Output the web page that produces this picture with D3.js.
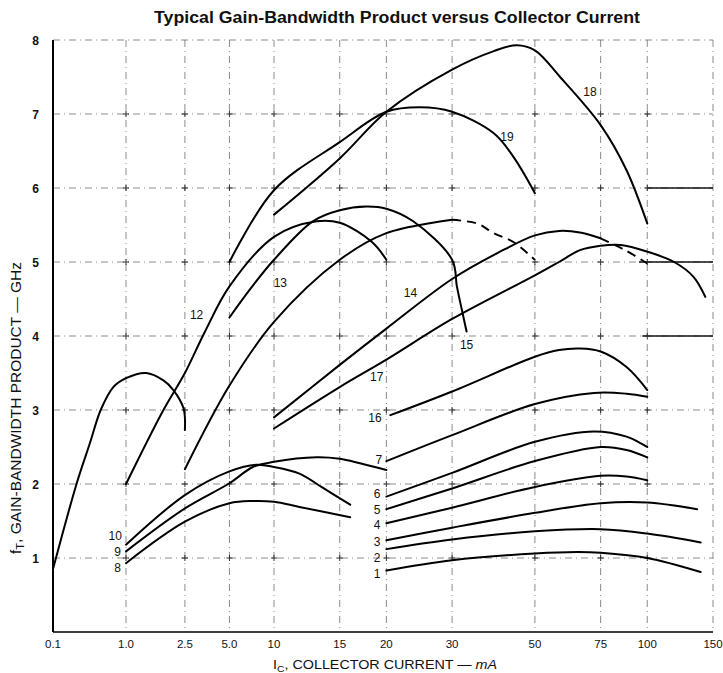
<!DOCTYPE html>
<html>
<head>
<meta charset="utf-8">
<script src="https://cdn.jsdelivr.net/npm/d3@7"></script>
<style>
body{margin:0;background:#fff;}
text{font-family:"Liberation Sans", Arial, Helvetica, sans-serif;fill:#111;}
</style>
</head>
<body>
<svg id="chart"></svg>
<script>
//AXIS VALUES
var xTicks = [0.1, 1, 2.5, 5, 10, 15, 20, 30, 50, 75, 100, 150];
var xTickLabels = ['0.1', '1.0', '2.5', '5.0', '10', '15', '20', '30', '50', '75', '100', '150'];
var yTicks = [1, 2, 3, 4, 5, 6, 7, 8];

//CURVES: [collector current mA, fT GHz]
var curve1 = [[20,0.83],[30,0.97],[50,1.06],[65,1.08],[75,1.07],[100,1.0],[139,0.81]];
var curve2 = [[20,1.12],[30,1.25],[50,1.36],[75,1.39],[100,1.33],[139,1.21]];
var curve3 = [[20,1.24],[30,1.41],[50,1.61],[75,1.74],[100,1.75],[136,1.66]];
var curve4 = [[20,1.47],[30,1.68],[50,1.96],[75,2.11],[88,2.10],[100,2.05]];
var curve5 = [[20,1.66],[30,1.94],[50,2.31],[75,2.50],[88,2.46],[100,2.36]];
var curve6 = [[20,1.83],[30,2.15],[50,2.57],[72,2.71],[88,2.64],[100,2.50]];
var curve7 = [[20,2.31],[30,2.66],[50,3.08],[72,3.23],[88,3.22],[100,3.18]];
var curve8 = [[1,0.93],[2.5,1.49],[5,1.74],[7.2,1.77],[10,1.76],[11.7,1.69],[16,1.55]];
var curve9 = [[1,1.09],[2.5,1.67],[5,2.01],[7.2,2.23],[10,2.30],[13,2.36],[15,2.34],[17,2.28],[20,2.19]];
var curve10 = [[1,1.18],[2.5,1.85],[5,2.17],[7.6,2.26],[10,2.23],[11.7,2.14],[13.5,1.95],[16,1.72]];
var curve11 = [[0.1,0.85],[0.21,2.0],[0.32,2.55],[0.45,3.0],[0.67,3.31],[1,3.43],[1.37,3.5],[1.79,3.4],[2.09,3.27],[2.45,3.02],[2.5,2.73]];
var curve12 = [[1,2.0],[1.79,3.0],[2.5,3.5],[3.4,4.05],[5,4.67],[10,5.34],[13,5.55],[15,5.53],[18.3,5.27],[20,5.03]];
var curve13 = [[2.5,2.2],[5,3.33],[10,4.19],[15,5.03],[20,5.39],[30,5.57]];
var curve13Dash = [[30,5.57],[35,5.52],[38.8,5.39],[43.8,5.27],[50,5.03]];
var curve14 = [[10,2.9],[15,3.61],[20,4.10],[30,4.77],[40,5.13],[50,5.36],[58,5.42],[66,5.40],[75,5.32]];
var curve14Dash = [[75,5.32],[88,5.15],[100,4.98]];
var curve15 = [[5,4.25],[7,4.65],[10,5.03],[12.7,5.55],[15,5.70],[17.7,5.75],[20,5.72],[23.6,5.55],[30,5.03],[30.9,4.67],[32,4.31],[32.8,4.06]];
var curve16 = [[20.5,2.93],[30,3.25],[50,3.72],[58,3.81],[66,3.83],[75,3.79],[88,3.58],[100,3.27]];
var curve17 = [[10,2.75],[15,3.31],[20,3.68],[30,4.23],[50,4.82],[58,5.0],[66,5.16],[75,5.22],[85,5.23],[100,5.14],[118,5.0],[133,4.80],[143,4.53]];
var curve18 = [[10,5.64],[15,6.4],[20,7.03],[30,7.60],[38.8,7.85],[44.7,7.93],[50,7.86],[58.4,7.5],[75,6.85],[88,6.24],[100,5.52]];
var curve19 = [[5,5.0],[10,5.97],[15,6.62],[20,7.03],[24.6,7.09],[30,7.03],[38.8,6.74],[43.8,6.42],[50,5.93]];

//CURVE NUMBERS: [text, mA, GHz]
var curveLabels = [
	['1',18.9,0.78],['2',18.9,1.0],['3',18.9,1.21],['4',18.9,1.44],['5',18.9,1.65],['6',18.9,1.86],['7',19.1,2.33],
	['8',0.77,0.86],['9',0.77,1.085],['10',0.71,1.30],
	['12',3.0,4.28],['13',10.4,4.71],['14',23.2,4.58],['15',32.8,3.88],
	['16',18.65,2.89],['17',18.85,3.44],['18',70.2,7.30],['19',42.1,6.69]
];

//heavier pieces of the grid on the right: [GHz, from mA, to mA]
var heavyGrid = [[6,100,150],[5,95,150],[4,97,150]];

var width = 723, height = 673;

var svg = d3.select('#chart')
.attr('width', width)
.attr('height', height)
.style('background', '#fff');

//scales: log in three stretches, like the printed paper
var x = d3.scaleLog()
.domain([0.1, 1, 10, 150])
.range([53, 126, 274, 713]);

var y = d3.scaleLinear()
.domain([0, 8])
.range([632, 40]);

//GRID
var grid = svg.append('g').attr('class', 'grid');

grid.selectAll('line.vgrid')
.data(xTicks.slice(1))
.enter()
.append('line')
.attr('x1', function(d){ return x(d); })
.attr('x2', function(d){ return x(d); })
.attr('y1', y(8))
.attr('y2', y(0))
.attr('stroke', '#666')
.attr('stroke-width', 0.75)
.attr('stroke-dasharray', '7,4,1,4');

grid.selectAll('line.hgrid')
.data(yTicks)
.enter()
.append('line')
.attr('x1', x(0.1))
.attr('x2', x(150))
.attr('y1', function(d){ return y(d); })
.attr('y2', function(d){ return y(d); })
.attr('stroke', '#666')
.attr('stroke-width', 0.75)
.attr('stroke-dasharray', '7,4,1,4');

grid.selectAll('line.heavy')
.data(heavyGrid)
.enter()
.append('line')
.attr('x1', function(d){ return x(d[1]); })
.attr('x2', function(d){ return x(d[2]); })
.attr('y1', function(d){ return y(d[0]); })
.attr('y2', function(d){ return y(d[0]); })
.attr('stroke', '#111')
.attr('stroke-width', 1.4);

//little crosses where the grid lines meet
var crossings = [];
xTicks.slice(1, -1).forEach(function(a){
	yTicks.slice(0, -1).forEach(function(b){ crossings.push([a, b]); });
});

grid.selectAll('path.cross')
.data(crossings)
.enter()
.append('path')
.attr('d', function(d){
	var cx = x(d[0]), cy = y(d[1]);
	return 'M' + (cx - 3) + ',' + cy + 'H' + (cx + 3) + 'M' + cx + ',' + (cy - 3) + 'V' + (cy + 3);
})
.attr('stroke', '#333')
.attr('stroke-width', 1);

//AXES
svg.append('line')
.attr('x1', x(0.1)).attr('x2', x(0.1))
.attr('y1', y(8)).attr('y2', y(0))
.attr('stroke', '#000')
.attr('stroke-width', 2);

svg.append('line')
.attr('x1', x(0.1)).attr('x2', x(150))
.attr('y1', y(0)).attr('y2', y(0))
.attr('stroke', '#000')
.attr('stroke-width', 1.5);

svg.selectAll('text.xtick')
.data(xTicks)
.enter()
.append('text')
.attr('class', 'xtick')
.attr('x', function(d){ return x(d); })
.attr('y', y(0) + 16)
.attr('text-anchor', 'middle')
.attr('font-size', 11.5)
.text(function(d, i){ return xTickLabels[i]; });

svg.selectAll('text.ytick')
.data(yTicks)
.enter()
.append('text')
.attr('class', 'ytick')
.attr('x', x(0.1) - 14)
.attr('y', function(d){ return y(d) + 4.5; })
.attr('text-anchor', 'end')
.attr('font-size', 12)
.attr('font-weight', 'bold')
.text(function(d){ return d; });

//axis titles
var yTitle = svg.append('text')
.attr('transform', 'translate(21,' + 408 + ') rotate(-90)')
.attr('text-anchor', 'middle')
.attr('font-size', 14)
.attr('textLength', 292)
.attr('lengthAdjust', 'spacingAndGlyphs');
yTitle.append('tspan').text('f');
yTitle.append('tspan').attr('font-size', 10).attr('dy', 3).text('T');
yTitle.append('tspan').attr('dy', -3).text(', GAIN-BANDWIDTH PRODUCT \u2014 GHz');

var xTitle = svg.append('text')
.attr('x', 385)
.attr('y', 669)
.attr('text-anchor', 'middle')
.attr('font-size', 13)
.attr('textLength', 224)
.attr('lengthAdjust', 'spacingAndGlyphs');
xTitle.append('tspan').text('I');
xTitle.append('tspan').attr('font-size', 9.5).attr('dy', 3).text('C');
xTitle.append('tspan').attr('dy', -3).text(', COLLECTOR CURRENT \u2014 ');
xTitle.append('tspan').attr('font-style', 'italic').text('mA');

svg.append('text')
.attr('x', 397)
.attr('y', 23)
.attr('text-anchor', 'middle')
.attr('font-size', 16)
.attr('font-weight', 'bold')
.attr('textLength', 486)
.attr('lengthAdjust', 'spacingAndGlyphs')
.text('Typical Gain-Bandwidth Product versus Collector Current');

//CURVES
var line = d3.line()
.x(function(d){ return x(d[0]); })
.y(function(d){ return y(d[1]); })
.curve(d3.curveCatmullRom.alpha(0.5));

var solidCurves = [curve1, curve2, curve3, curve4, curve5, curve6, curve7, curve8, curve9, curve10,
	curve11, curve12, curve13, curve14, curve15, curve16, curve17, curve18, curve19];
var dashedCurves = [curve13Dash, curve14Dash];

svg.append('g')
.selectAll('path')
.data(solidCurves)
.enter()
.append('path')
.attr('d', line)
.attr('fill', 'none')
.attr('stroke', '#000')
.attr('stroke-width', 2)
.attr('stroke-linecap', 'round');

svg.append('g')
.selectAll('path')
.data(dashedCurves)
.enter()
.append('path')
.attr('d', line)
.attr('fill', 'none')
.attr('stroke', '#000')
.attr('stroke-width', 2)
.attr('stroke-dasharray', '9,6');

//curve numbers
svg.append('g')
.selectAll('text')
.data(curveLabels)
.enter()
.append('text')
.attr('x', function(d){ return x(d[1]); })
.attr('y', function(d){ return y(d[2]) + 4; })
.attr('text-anchor', 'middle')
.attr('font-size', 12)
.text(function(d){ return d[0]; });
</script>
</body>
</html>
